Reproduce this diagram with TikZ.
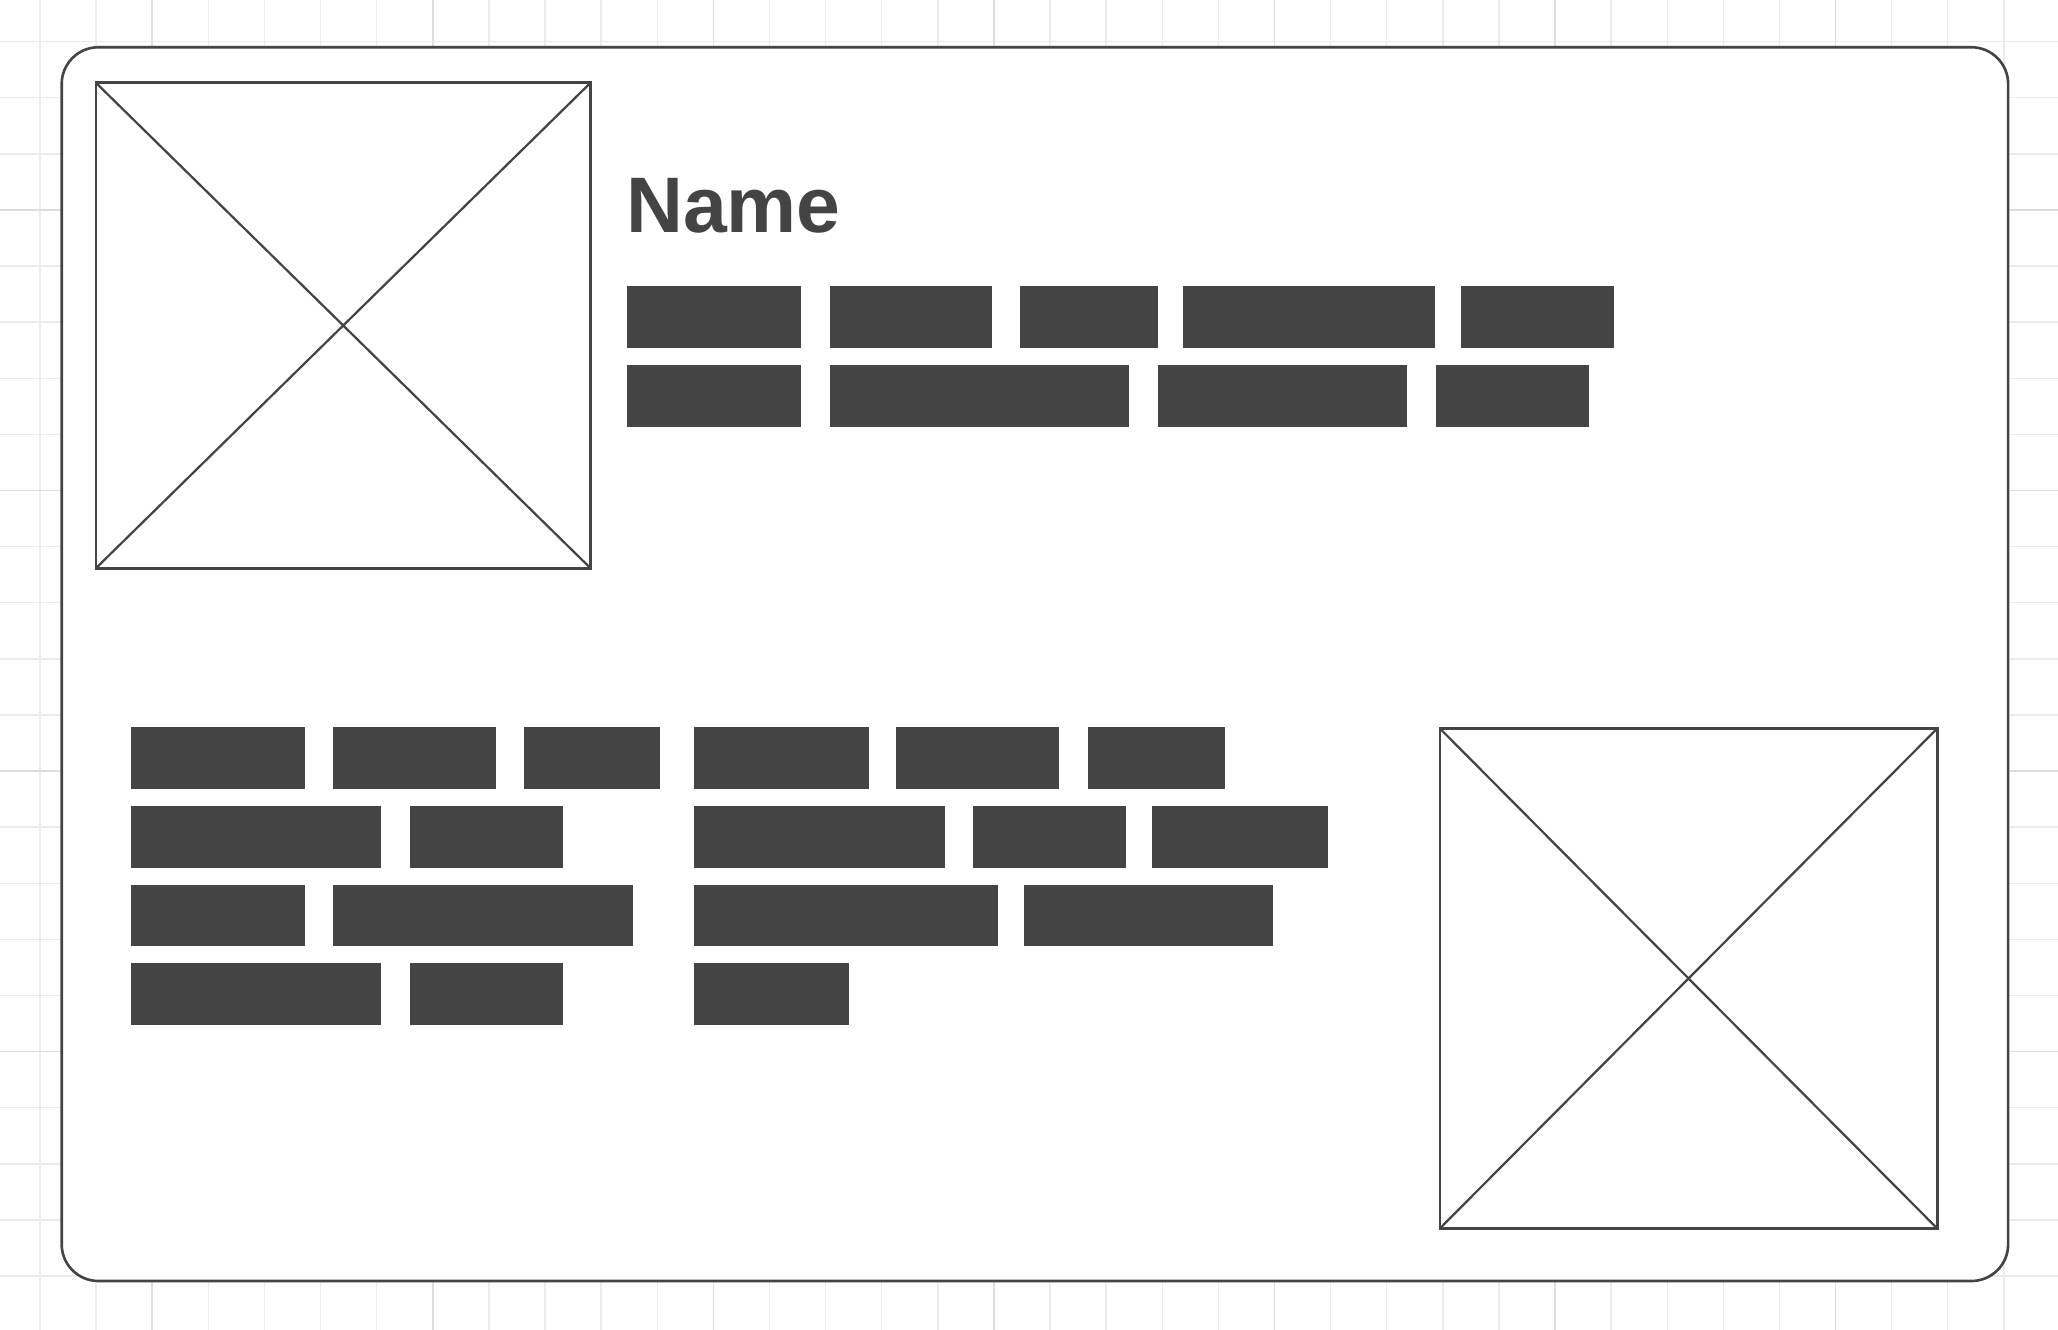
\documentclass[tikz,border=0pt]{standalone}
\usepackage{fontspec}
\setmainfont{Liberation Sans}
\definecolor{ink}{HTML}{444444}
\definecolor{gridminor}{HTML}{EBEBEB}
\definecolor{gridmajor}{HTML}{DDDDDD}
\begin{document}
\begin{tikzpicture}[x=1pt,y=-1pt,
  minorline/.style={draw=gridminor,line width=1.1pt},
  majorline/.style={draw=gridmajor,line width=1.3pt},
  cardbox/.style={draw=ink,fill=white,line width=2pt,rounded corners=28pt,inner sep=0pt,outer sep=0pt},
  imgbox/.style={draw=ink,fill=white,line width=2pt,inner sep=0pt,outer sep=0pt,anchor=north west},
  diag/.style={draw=ink,line width=1.7pt},
  barbox/.style={fill=ink,inner sep=0pt,outer sep=0pt,anchor=north west,minimum height=47pt},
  title/.style={text=ink,font=\fontsize{60}{72}\selectfont\bfseries,inner sep=0pt,anchor=base west}]
\useasboundingbox (0,0) rectangle (1568,1013.3);
\fill[white] (0,0) rectangle (1568,1013.3);
% grid
\foreach \k in {0,...,35}{
  \pgfmathtruncatemacro\m{mod(\k,5)}
  \ifnum\m=2 \path[majorline] ({30.5+42.75*\k},0) -- ({30.5+42.75*\k},1013.3);
  \else \path[minorline] ({30.5+42.75*\k},0) -- ({30.5+42.75*\k},1013.3); \fi}
\foreach \k in {0,...,22}{
  \pgfmathtruncatemacro\m{mod(\k,5)}
  \ifnum\m=3 \path[majorline] (0,{31.7+42.75*\k}) -- (1568,{31.7+42.75*\k});
  \else \path[minorline] (0,{31.7+42.75*\k}) -- (1568,{31.7+42.75*\k}); \fi}
% card
\node[cardbox,minimum width=1483pt,minimum height=940pt,anchor=north west] (card) at (47,36) {};
% image placeholders
\node[imgbox,minimum width=377pt,minimum height=370pt] (img1) at (73,63) {};
\path[diag] (img1.north west) -- (img1.south east) (img1.north east) -- (img1.south west);
\node[imgbox,minimum width=379pt,minimum height=381pt] (img2) at (1097,555) {};
\path[diag] (img2.north west) -- (img2.south east) (img2.north east) -- (img2.south west);
% title
\node[title] (name) at (477,177) {Name};
% bars, top block
\foreach \xa/\xb [count=\n] in {478/610,632/756,777/882,901/1093,1113/1230}{
  \pgfmathsetmacro\w{\xb-\xa}
  \node[barbox,minimum width=\w pt] (ta\n) at (\xa,218) {};}
\foreach \xa/\xb [count=\n] in {478/610,632/860,882/1072,1094/1211}{
  \pgfmathsetmacro\w{\xb-\xa}
  \node[barbox,minimum width=\w pt] (tb\n) at (\xa,278) {};}
% bars, lower block
\foreach \xa/\xb [count=\n] in {100/232,254/378,399/503,529/662,683/807,829/933}{
  \pgfmathsetmacro\w{\xb-\xa}
  \node[barbox,minimum width=\w pt] (ba\n) at (\xa,554) {};}
\foreach \xa/\xb [count=\n] in {100/290,312/429,529/720,741/858,878/1012}{
  \pgfmathsetmacro\w{\xb-\xa}
  \node[barbox,minimum width=\w pt] (bb\n) at (\xa,614) {};}
\foreach \xa/\xb [count=\n] in {100/232,254/482,529/760,780/970}{
  \pgfmathsetmacro\w{\xb-\xa}
  \node[barbox,minimum width=\w pt] (bc\n) at (\xa,674) {};}
\foreach \xa/\xb [count=\n] in {100/290,312/429,529/647}{
  \pgfmathsetmacro\w{\xb-\xa}
  \node[barbox,minimum width=\w pt] (bd\n) at (\xa,734) {};}
\end{tikzpicture}
\end{document}
